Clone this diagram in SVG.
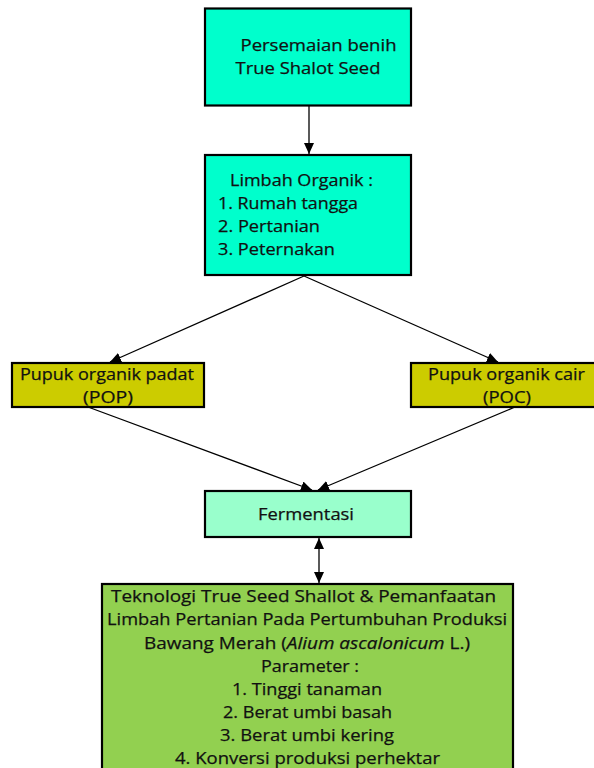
<svg xmlns="http://www.w3.org/2000/svg" width="594" height="768" viewBox="0 0 594 768">
<style>
.box{stroke:#000;stroke-width:2.2}
.cyan{fill:#00FFCC}
.olive{fill:#CCCC00}
.mint{fill:#99FFCC}
.green{fill:#92D050}
text{font-family:"Open Sans","DejaVu Sans",sans-serif;font-size:16.5px;fill:#111;stroke:#111;stroke-width:0.25}
.conn line{stroke:#000;stroke-width:1.3;fill:none}
</style>
<defs>
<marker id="ah" markerUnits="userSpaceOnUse" markerWidth="11" markerHeight="10" viewBox="0 0 11 10" refX="11" refY="5" orient="auto-start-reverse">
<path d="M0,0 L11,5 L0,10 z" fill="#000"/>
</marker>
</defs>
<rect width="594" height="768" fill="#fff"/>
<g id="connectors" class="conn">
<line x1="309" y1="106" x2="309" y2="154" marker-end="url(#ah)"/>
<line x1="304" y1="276" x2="110" y2="362" marker-end="url(#ah)"/>
<line x1="304" y1="276" x2="498" y2="362" marker-end="url(#ah)"/>
<line x1="88" y1="407" x2="312" y2="490" marker-end="url(#ah)"/>
<line x1="515" y1="407" x2="318" y2="490" marker-end="url(#ah)"/>
<line x1="319" y1="538" x2="319" y2="583" marker-start="url(#ah)" marker-end="url(#ah)"/>
</g>
<g id="persemaian">
<rect class="box cyan" x="205" y="8.5" width="206" height="97"/>
<text x="240.5" y="51" textLength="156" lengthAdjust="spacingAndGlyphs">Persemaian benih</text>
<text x="235.5" y="74" textLength="145" lengthAdjust="spacingAndGlyphs">True Shalot Seed</text>
</g>
<g id="limbah">
<rect class="box cyan" x="205" y="155" width="206" height="120"/>
<text x="230" y="186" textLength="143" lengthAdjust="spacingAndGlyphs">Limbah Organik :</text>
<text x="218" y="209" textLength="140" lengthAdjust="spacingAndGlyphs">1. Rumah tangga</text>
<text x="218" y="232" textLength="102" lengthAdjust="spacingAndGlyphs">2. Pertanian</text>
<text x="218" y="255" textLength="117" lengthAdjust="spacingAndGlyphs">3. Peternakan</text>
</g>
<g id="pop">
<rect class="box olive" x="12" y="363" width="192" height="44"/>
<text x="20" y="380" textLength="174" lengthAdjust="spacingAndGlyphs">Pupuk organik padat</text>
<text x="83" y="403" textLength="50" lengthAdjust="spacingAndGlyphs">(POP)</text>
</g>
<g id="poc">
<rect class="box olive" x="411" y="363" width="190" height="44"/>
<text x="428" y="380" textLength="157" lengthAdjust="spacingAndGlyphs">Pupuk organik cair</text>
<text x="483" y="403" textLength="48" lengthAdjust="spacingAndGlyphs">(POC)</text>
</g>
<g id="fermentasi">
<rect class="box mint" x="205" y="491" width="206" height="46"/>
<text x="258" y="520" textLength="96" lengthAdjust="spacingAndGlyphs">Fermentasi</text>
</g>
<g id="teknologi">
<rect class="box green" x="102" y="584" width="411" height="200"/>
<text x="111" y="602" textLength="385" lengthAdjust="spacingAndGlyphs">Teknologi True Seed Shallot &amp; Pemanfaatan</text>
<text x="107" y="625" textLength="400" lengthAdjust="spacingAndGlyphs">Limbah Pertanian Pada Pertumbuhan Produksi</text>
<text x="144" y="649" textLength="326" lengthAdjust="spacingAndGlyphs">Bawang Merah (<tspan font-style="italic">Alium ascalonicum</tspan>  L.)</text>
<text x="261" y="672" textLength="98" lengthAdjust="spacingAndGlyphs">Parameter :</text>
<text x="232" y="695" textLength="150" lengthAdjust="spacingAndGlyphs">1. Tinggi tanaman</text>
<text x="223" y="718" textLength="169" lengthAdjust="spacingAndGlyphs">2. Berat umbi basah</text>
<text x="220" y="741" textLength="174" lengthAdjust="spacingAndGlyphs">3. Berat umbi kering</text>
<text x="175" y="764" textLength="265" lengthAdjust="spacingAndGlyphs">4. Konversi produksi perhektar</text>
</g>
</svg>
